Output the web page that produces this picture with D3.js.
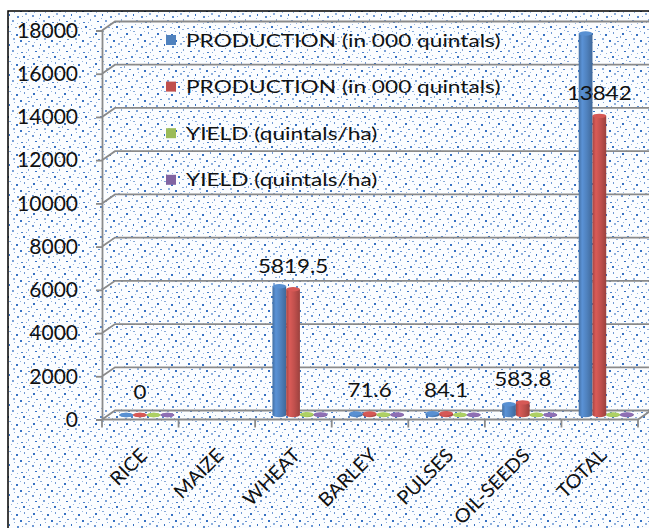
<!DOCTYPE html>
<html>
<head>
<meta charset="utf-8">
<script src="https://cdn.jsdelivr.net/npm/d3@7"></script>
<style>
  html, body { margin: 0; padding: 0; background: #fff; }
  svg { display: block; }
  text { font-family: Lato, "Open Sans", sans-serif; fill: #111; }
</style>
</head>
<body>
<svg id="chart" width="649" height="528"></svg>
<script>
// Crop production and yield by crop
const categories = ["RICE", "MAIZE", "WHEAT", "BARLEY", "PULSES", "OIL-SEEDS", "TOTAL"];
const productionA = [0, null, 5960, 68, 80, 500, 17650];
const productionB = [0, null, 5819.5, 71.6, 84.1, 583.8, 13842];
const yieldA = [0, null, 31.5, 24.0, 9.5, 12.4, 22.0];
const yieldB = [0, null, 30.8, 23.1, 9.0, 11.8, 21.5];
const seriesNames = [
  "PRODUCTION (in 000 quintals)",
  "PRODUCTION (in 000 quintals)",
  "YIELD (quintals/ha)",
  "YIELD (quintals/ha)"
];
const yTicks = [0, 2000, 4000, 6000, 8000, 10000, 12000, 14000, 16000, 18000];

const seriesValues = [productionA, productionB, yieldA, yieldB];
const colors = ["#4f81bd", "#c0504d", "#9bbb59", "#8064a2"];

const svg = d3.select("#chart");
const defs = svg.append("defs");

// confetti-dot texture used for the chart background
const dots = [
  [2,3,2,2,1],[9,1,2,1,0.6],[16,4,2,2,1],[24,2,1,2,0.7],[5,9,2,1,0.8],
  [13,8,2,2,0.55],[20,10,2,2,1],[27,7,2,1,0.6],[1,15,2,2,0.7],[9,14,1,2,1],
  [17,16,2,2,0.8],[25,13,2,2,0.55],[4,21,2,1,1],[12,20,2,2,0.65],[21,22,2,1,0.9],
  [28,19,1,2,0.6],[7,26,2,2,0.85],[15,27,2,1,0.6],[23,26,2,2,1],[29,25,1,1,0.5],
  [6,0,1,1,0.5],[20,1,1,1,0.5],[28,11,2,1,0.75],[0,6,1,2,0.6],[11,4,1,1,0.5],
  [14,12,1,1,0.6],[3,12,1,1,0.5],[22,16,1,1,0.6],[8,18,1,1,0.55],[17,23,1,1,0.5],
  [26,22,1,1,0.6],[1,28,2,1,0.7],[11,24,1,1,0.5],[19,28,1,1,0.6],[27,29,2,1,0.55]
];
const pat = defs.append("pattern")
  .attr("id", "confetti").attr("patternUnits", "userSpaceOnUse")
  .attr("width", 31).attr("height", 30);
pat.append("rect").attr("width", 31).attr("height", 30).attr("fill", "#fbfdff");
pat.selectAll("rect.d").data(dots).join("rect").attr("class", "d")
  .attr("x", d => d[0]).attr("y", d => d[1]).attr("width", d => d[2]).attr("height", d => d[3])
  .attr("fill", "#3570c2").attr("opacity", d => d[4]);

// cylinder shading per series
colors.forEach((c, i) => {
  const g = defs.append("linearGradient").attr("id", "cyl" + i)
    .attr("x1", 0).attr("x2", 1).attr("y1", 0).attr("y2", 0);
  const base = d3.color(c);
  g.append("stop").attr("offset", "0%").attr("stop-color", base.darker(0.4));
  g.append("stop").attr("offset", "25%").attr("stop-color", base.brighter(0.35));
  g.append("stop").attr("offset", "60%").attr("stop-color", base);
  g.append("stop").attr("offset", "100%").attr("stop-color", base.darker(0.6));
});

// chart area frame
svg.append("rect").attr("x", 8).attr("y", 11).attr("width", 700).attr("height", 600)
  .attr("fill", "url(#confetti)").attr("stroke", "#000").attr("stroke-width", 1.5);

const clip = defs.append("clipPath").attr("id", "area");
clip.append("rect").attr("x", 9).attr("y", 12).attr("width", 700).attr("height", 600);

const left = 102, right = 638;
const DX = 13, DY = -9; // depth of the 3D box
const x = d3.scaleBand().domain(categories).range([left, right]).padding(0);
const y = d3.scaleLinear().domain([0, 18000]).range([419.5, 30.5]);
const groupW = 55;
const inner = d3.scaleBand().domain(d3.range(4)).range([0, groupW]).padding(0);
const gridColor = "#8a8a8a";

const plot = svg.append("g").attr("clip-path", "url(#area)");

// walls: gridlines on the back wall with side-wall diagonals
plot.append("g").selectAll("path").data(yTicks).join("path")
  .attr("d", v => `M${left},${y(v)} L${left + DX},${y(v) + DY} L700,${y(v) + DY}`)
  .attr("fill", "none").attr("stroke", gridColor).attr("stroke-width", 1.8);

// floor front edge and right edge
const y0 = y(0);
plot.append("path")
  .attr("d", `M${left},${y0} L${right},${y0} L${right + DX},${y0 + DY}`)
  .attr("fill", "none").attr("stroke", gridColor).attr("stroke-width", 1.8);

// category boundary ticks
const bounds = d3.range(categories.length + 1).map(i => left + i * x.step());
plot.append("g").selectAll("line").data(bounds).join("line")
  .attr("x1", d => d).attr("x2", d => d).attr("y1", y0).attr("y2", y0 + 8)
  .attr("stroke", gridColor).attr("stroke-width", 1.8);

// value axis
const yAxis = svg.append("g").attr("transform", `translate(${left},0)`)
  .call(d3.axisLeft(y).tickValues(yTicks).tickSize(6).tickPadding(18).tickFormat(d3.format("d")));
yAxis.select(".domain").attr("stroke", gridColor).attr("stroke-width", 1.8);
yAxis.selectAll(".tick line").attr("stroke", gridColor).attr("stroke-width", 1.8);
yAxis.selectAll(".tick text").attr("font-size", 21).attr("font-family", "Lato").attr("fill", "#111");

// columns (cylinders) placed at mid depth
const mdx = DX / 2, mdy = DY / 2;
const barData = [];
categories.forEach((c, ci) => {
  seriesValues.forEach((vals, si) => {
    const v = vals[ci];
    if (v === null || v === undefined) return;
    barData.push({ c, si, v });
  });
});
const bw = inner.bandwidth();
const bars = plot.append("g").selectAll("g").data(barData).join("g")
  .attr("transform", d => `translate(${x(d.c) + (x.bandwidth() - groupW) / 2 + inner(d.si) + mdx},${mdy})`);
bars.append("ellipse")
  .attr("cx", bw / 2).attr("cy", y0).attr("rx", bw / 2).attr("ry", 2.2)
  .attr("fill", d => `url(#cyl${d.si})`);
bars.append("rect")
  .attr("x", 0).attr("width", bw)
  .attr("y", d => y(d.v)).attr("height", d => y0 - y(d.v))
  .attr("fill", d => `url(#cyl${d.si})`);
bars.append("ellipse")
  .attr("cx", bw / 2).attr("cy", d => y(d.v)).attr("rx", bw / 2).attr("ry", 2.2)
  .attr("fill", d => d3.color(colors[d.si]).brighter(0.3));

// data labels for the second production series
const labelData = categories.map((c, i) => ({ c, v: productionB[i] })).filter(d => d.v !== null);
svg.append("g").selectAll("text").data(labelData).join("text")
  .attr("transform", d => `translate(${x(d.c) + (x.bandwidth() - groupW) / 2 + inner(1) + bw / 2 + mdx},${y(d.v) + mdy - 16}) scale(1.12,1)`)
  .attr("text-anchor", "middle").attr("font-size", 20)
  .text(d => d3.format("")(d.v));

// category labels
svg.append("g").selectAll("text").data(categories).join("text")
  .attr("transform", d => `translate(${x(d) + x.bandwidth() / 2 + 8},${y0 + 37}) rotate(-45) scale(1.05,1)`)
  .attr("text-anchor", "end").attr("font-size", 19)
  .text(d => d);

// legend
const legend = svg.append("g").selectAll("g").data(seriesNames).join("g")
  .attr("transform", (d, i) => `translate(166,${40 + i * 46.6})`);
legend.append("rect").attr("x", 0).attr("y", -5).attr("width", 10).attr("height", 10)
  .attr("fill", (d, i) => colors[i]);
legend.append("text")
  .attr("transform", "translate(20,6.5) scale(1.26,1)")
  .attr("font-size", 18)
  .text(d => d);
</script>
</body>
</html>
